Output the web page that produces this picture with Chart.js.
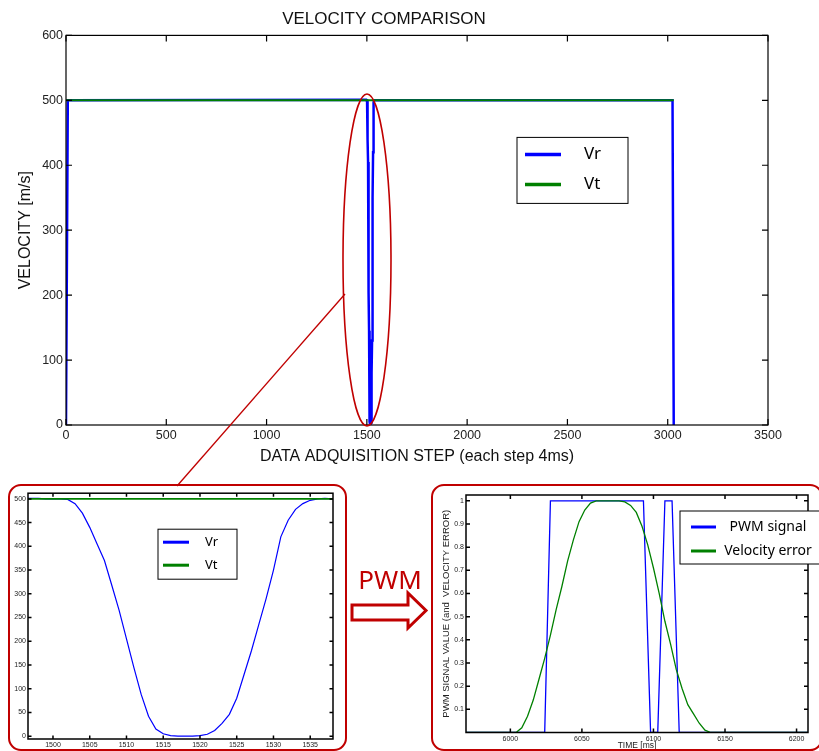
<!DOCTYPE html>
<html lang="en">
<head>
  <meta charset="UTF-8">
  <title>VELOCITY COMPARISON</title>
  <script src="https://cdn.jsdelivr.net/npm/chart.js"></script>
  <style>
    body { margin: 0; background: #fff; width: 819px; height: 751px; overflow: hidden; position: relative; }
    canvas { position: absolute; }
    #mainChart { left: 0; top: 0; }
    #zoomChart { left: 10px; top: 487px; }
    #pwmChart { left: 434px; top: 487px; }
    #deco { position: absolute; left: 0; top: 0; pointer-events: none; }
  </style>
</head>
<body>

<canvas id="mainChart" width="819" height="480"></canvas>
<canvas id="zoomChart" width="336" height="263"></canvas>
<canvas id="pwmChart" width="385" height="264"></canvas>

<svg id="deco" width="819" height="751">
  <ellipse cx="367" cy="260" rx="24" ry="166" fill="none" stroke="#c00000" stroke-width="1.6"/>
  <line x1="345" y1="294" x2="177" y2="486" stroke="#c00000" stroke-width="1.3"/>
  <rect x="9" y="485" width="337" height="265" rx="12" fill="none" stroke="#c00000" stroke-width="2"/>
  <rect x="432" y="485" width="390" height="265" rx="12" fill="none" stroke="#c00000" stroke-width="2"/>
  <text x="390" y="589" font-family="Noto Sans, Open Sans, sans-serif" font-size="26" fill="#c00000" text-anchor="middle">PWM</text>
  <path d="M352,605 H408 V593 L426,610.5 L408,628 V620 H352 Z" fill="none" stroke="#c00000" stroke-width="3"/>
</svg>

<script>
  // velocity data (data acquisition steps, each 4 ms)
  const dipStep = [1497, 1498, 1499, 1500, 1501, 1502, 1503, 1504, 1505, 1506, 1507, 1508, 1509, 1510,
                   1511, 1512, 1513, 1514, 1515, 1516, 1517, 1518, 1519, 1520, 1521, 1522, 1523, 1524,
                   1525, 1526, 1527, 1528, 1529, 1530, 1531, 1532, 1533, 1534, 1535, 1536, 1537, 1538];
  const dipVr   = [501, 501, 500, 500, 500, 499, 490, 470, 440, 405, 370, 318, 265, 205,
                   145, 88, 42, 15, 5, 1, 0, 0, 0, 1, 4, 12, 27, 46,
                   80, 130, 180, 235, 290, 350, 420, 455, 478, 490, 497, 500, 501, 500];
  const vrStep = [0, 9].concat(dipStep, [3024, 3030]);
  const vr     = [0, 500].concat(dipVr, [500, 0]);
  const vtStep = [0, 3030];
  const vt     = [500, 500];

  // PWM signal and normalised velocity error
  const pwmTime = [5960, 6024, 6028, 6093, 6098, 6103, 6108, 6113, 6118, 6215];
  const pwm     = [0, 0, 1, 1, 0, 0, 1, 1, 0, 0];
  const errTime = [5960, 6004, 6008, 6012, 6016, 6020, 6024, 6028, 6032, 6036, 6040, 6044, 6048, 6052,
                   6056, 6060, 6064, 6068, 6072, 6076, 6080, 6084, 6088, 6092, 6096, 6100, 6104, 6108,
                   6112, 6116, 6120, 6124, 6128, 6132, 6136, 6140, 6215];
  const err     = [0, 0, 0.02, 0.07, 0.14, 0.23, 0.32, 0.42, 0.53, 0.63, 0.74, 0.83, 0.91, 0.96,
                   0.99, 1, 1, 1, 1, 1, 0.995, 0.98, 0.95, 0.89, 0.81, 0.71, 0.6, 0.48,
                   0.38, 0.27, 0.19, 0.12, 0.08, 0.04, 0.01, 0, 0];

  // tick labels
  const mainXTicks = [0, 500, 1000, 1500, 2000, 2500, 3000, 3500];
  const mainYTicks = [0, 100, 200, 300, 400, 500, 600];
  const zoomXTicks = [1500, 1505, 1510, 1515, 1520, 1525, 1530, 1535];
  const zoomYTicks = [0, 50, 100, 150, 200, 250, 300, 350, 400, 450, 500];
  const pwmXTicks  = [6000, 6050, 6100, 6150, 6200];
  const pwmYTicks  = [0.1, 0.2, 0.3, 0.4, 0.5, 0.6, 0.7, 0.8, 0.9, 1];

  const pts = (xs, ys) => xs.map((x, i) => ({ x, y: ys[i] }));

  Chart.defaults.font.family = '"Liberation Sans", Arial, sans-serif';
  Chart.defaults.color = '#222';

  // matlab style box with inward ticks on all four sides
  const matlabBox = {
    id: 'matlabBox',
    afterDraw(chart, args, o) {
      const { ctx, chartArea: a, scales: { x, y } } = chart;
      ctx.save();
      ctx.strokeStyle = '#000';
      ctx.lineWidth = o.width;
      ctx.strokeRect(a.left, a.top, a.right - a.left, a.bottom - a.top);
      ctx.beginPath();
      x.ticks.forEach(t => {
        const px = x.getPixelForValue(t.value);
        ctx.moveTo(px, a.bottom); ctx.lineTo(px, a.bottom - o.len);
        ctx.moveTo(px, a.top); ctx.lineTo(px, a.top + o.len);
      });
      y.ticks.forEach(t => {
        const py = y.getPixelForValue(t.value);
        ctx.moveTo(a.left, py); ctx.lineTo(a.left + o.len, py);
        ctx.moveTo(a.right, py); ctx.lineTo(a.right - o.len, py);
      });
      ctx.stroke();
      ctx.restore();
    }
  };

  // legend box placed inside the plot area
  const boxLegend = {
    id: 'boxLegend',
    afterDraw(chart, args, o) {
      const { ctx, chartArea: a } = chart;
      const bx = a.left + o.x, by = a.top + o.y;
      ctx.save();
      ctx.fillStyle = '#fff';
      ctx.fillRect(bx, by, o.w, o.h);
      ctx.strokeStyle = '#000';
      ctx.lineWidth = 1;
      ctx.strokeRect(bx, by, o.w, o.h);
      ctx.font = o.font;
      ctx.textBaseline = 'middle';
      ctx.textAlign = o.align;
      chart.data.datasets.forEach((d, i) => {
        const ly = by + o.rows[i];
        ctx.strokeStyle = d.borderColor;
        ctx.lineWidth = o.lineWidth;
        ctx.beginPath();
        ctx.moveTo(bx + o.line[0], ly);
        ctx.lineTo(bx + o.line[1], ly);
        ctx.stroke();
        ctx.fillStyle = '#000';
        ctx.fillText(d.label, bx + o.textX, ly);
      });
      ctx.restore();
    }
  };

  const fixTicks = arr => scale => { scale.ticks = arr.map(v => ({ value: v })); };
  const fitW = w => scale => { scale.width = w; };
  const fitH = h => scale => { scale.height = h; };

  function linearAxis(min, max, ticks, fit, font, pad, title) {
    return {
      type: 'linear', min, max,
      afterBuildTicks: fixTicks(ticks),
      afterFit: fit,
      grid: { display: false, drawTicks: false },
      border: { display: false },
      ticks: { font, padding: pad, color: '#222', autoSkip: false, maxRotation: 0, callback: v => String(v) },
      title: title || { display: false }
    };
  }

  new Chart(document.getElementById('mainChart'), {
    type: 'line',
    data: {
      datasets: [
        { label: 'Vr', data: pts(vrStep, vr), borderColor: '#0000ff', borderWidth: 2.5, order: 1 },
        { label: 'Vt', data: pts(vtStep, vt), borderColor: '#008000', borderWidth: 2, order: 0 }
      ]
    },
    options: {
      responsive: false, animation: false, devicePixelRatio: 1,
      elements: { point: { radius: 0 }, line: { tension: 0 } },
      layout: { padding: { left: 0, right: 51, top: 0, bottom: 0 } },
      scales: {
        x: linearAxis(0, 3500, mainXTicks, fitH(55), { size: 12.5 }, 3,
          { display: true, text: 'DATA ADQUISITION STEP (each step 4ms)', font: { size: 16 }, color: '#111', padding: { top: 0, bottom: 14 } }),
        y: linearAxis(0, 600, mainYTicks, fitW(66), { size: 12.5 }, 3,
          { display: true, text: 'VELOCITY [m/s]', font: { size: 16 }, color: '#111', padding: { top: 16, bottom: 0 } })
      },
      plugins: {
        legend: { display: false },
        tooltip: { enabled: false },
        title: { display: true, text: 'VELOCITY COMPARISON', color: '#111', font: { size: 17, weight: 'normal' }, padding: { top: 9, bottom: 6 } },
        matlabBox: { width: 1.2, len: 6 },
        boxLegend: { x: 451, y: 102, w: 111, h: 66, line: [8, 44], textX: 67, rows: [17, 47],
                     font: '17px "Noto Sans", sans-serif', align: 'left', lineWidth: 3.5 }
      }
    },
    plugins: [matlabBox, boxLegend]
  });

  new Chart(document.getElementById('zoomChart'), {
    type: 'line',
    data: {
      datasets: [
        { label: 'Vr', data: pts(vrStep, vr), borderColor: '#0000ff', borderWidth: 1.2, order: 1 },
        { label: 'Vt', data: pts(vtStep, vt), borderColor: '#008000', borderWidth: 1.8, order: 0 }
      ]
    },
    options: {
      responsive: false, animation: false, devicePixelRatio: 1,
      elements: { point: { radius: 0 }, line: { tension: 0 } },
      layout: { padding: { left: 0, right: 13, top: 6, bottom: 0 } },
      scales: {
        x: linearAxis(1496.6, 1538.1, zoomXTicks, fitH(11), { size: 7 }, 2),
        y: linearAxis(-6, 512, zoomYTicks, fitW(18), { size: 7 }, 2)
      },
      plugins: {
        legend: { display: false },
        tooltip: { enabled: false },
        matlabBox: { width: 1.5, len: 3.5 },
        boxLegend: { x: 130, y: 36, w: 79, h: 50, line: [5, 31], textX: 47, rows: [13, 36],
                     font: '13px "Noto Sans", sans-serif', align: 'left', lineWidth: 3 }
      }
    },
    plugins: [matlabBox, boxLegend]
  });

  new Chart(document.getElementById('pwmChart'), {
    type: 'line',
    data: {
      datasets: [
        { label: 'PWM signal', data: pts(pwmTime, pwm), borderColor: '#0000ff', borderWidth: 1.3, order: 1 },
        { label: 'Velocity error', data: pts(errTime, err), borderColor: '#008000', borderWidth: 1.3, order: 0 }
      ]
    },
    options: {
      responsive: false, animation: false, devicePixelRatio: 1,
      elements: { point: { radius: 0 }, line: { tension: 0 } },
      layout: { padding: { left: 0, right: 11, top: 8, bottom: 0 } },
      scales: {
        x: linearAxis(5969, 6208, pwmXTicks, fitH(18.5), { size: 7 }, 2,
          { display: true, text: 'TIME [ms]', font: { size: 8.5 }, color: '#222', padding: { top: 0, bottom: 0 } }),
        y: linearAxis(0, 1.025, pwmYTicks, fitW(32), { size: 7 }, 2,
          { display: true, text: 'PWM SIGNAL VALUE (and  VELOCITY ERROR)', font: { size: 9.5 }, color: '#222', padding: { top: 7, bottom: 0 } })
      },
      plugins: {
        legend: { display: false },
        tooltip: { enabled: false },
        matlabBox: { width: 1.5, len: 4 },
        boxLegend: { x: 214, y: 16, w: 142, h: 53, line: [11, 36], textX: 88, rows: [16, 40],
                     font: '14px "Noto Sans", sans-serif', align: 'center', lineWidth: 3 }
      }
    },
    plugins: [matlabBox, boxLegend]
  });
</script>
</body>
</html>
